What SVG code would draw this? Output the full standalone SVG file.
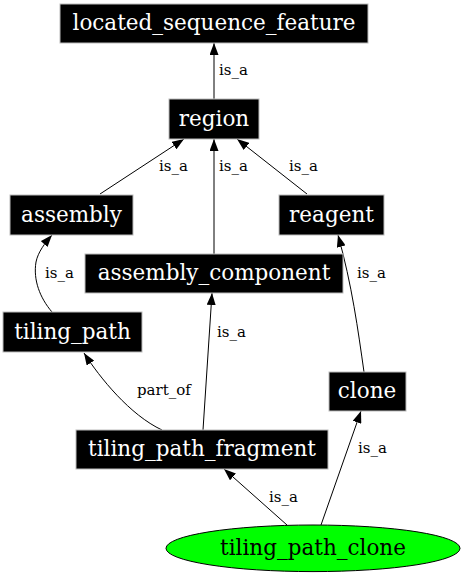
<svg xmlns="http://www.w3.org/2000/svg" width="464" height="576" viewBox="0 0 464 576">
<style>
.box{fill:#000;stroke:#bbb;stroke-width:1}
.nt{font-family:"DejaVu Serif",serif;font-size:21.5px;fill:#fff;text-anchor:middle}
.nt2{font-family:"DejaVu Serif",serif;font-size:21.5px;fill:#000;text-anchor:middle}
.e{fill:none;stroke:#000;stroke-width:1;marker-end:url(#arr)}
.lb{font-family:"DejaVu Serif",serif;font-size:15px;fill:#000}
</style>
<defs>
<marker id="arr" markerWidth="12" markerHeight="9" refX="12" refY="4.5" orient="auto" markerUnits="userSpaceOnUse">
<path d="M0,0 L12,4.5 L0,9 z" fill="#000"/>
</marker>
</defs>
<rect width="464" height="576" fill="#fff"/>
<g id="connectors">
<path class="e" d="M214,99 L214,43"/>
<path class="e" d="M100,194 L184,139"/>
<path class="e" d="M214,254 L214,139"/>
<path class="e" d="M307,194 L237,139"/>
<path class="e" d="M52,312 C40,298 33,280 36,262 C38,252 45,243 52,235"/>
<path class="e" d="M364,372 C358,330 352,285 338,235"/>
<path class="e" d="M203,430 L212,293"/>
<path class="e" d="M162,430 C130,415 100,378 84,353"/>
<path class="e" d="M287,525 L224,469"/>
<path class="e" d="M321,525 L361,411"/>
<text class="lb" x="219" y="75">is_a</text>
<text class="lb" x="159" y="171">is_a</text>
<text class="lb" x="219" y="171">is_a</text>
<text class="lb" x="289" y="171">is_a</text>
<text class="lb" x="45" y="278">is_a</text>
<text class="lb" x="357" y="278">is_a</text>
<text class="lb" x="217" y="337">is_a</text>
<text class="lb" x="137" y="395">part_of</text>
<text class="lb" x="269" y="502">is_a</text>
<text class="lb" x="358" y="453">is_a</text>
</g>
<g id="located_sequence_feature">
<rect class="box" x="60" y="4" width="308" height="39"/>
<text class="nt" x="214" y="30">located_sequence_feature</text>
</g>
<g id="region">
<rect class="box" x="169" y="99" width="90" height="40"/>
<text class="nt" x="214" y="126">region</text>
</g>
<g id="assembly">
<rect class="box" x="10" y="195" width="123" height="40"/>
<text class="nt" x="71.5" y="222">assembly</text>
</g>
<g id="reagent">
<rect class="box" x="279" y="195" width="105" height="40"/>
<text class="nt" x="331.5" y="222">reagent</text>
</g>
<g id="assembly_component">
<rect class="box" x="85" y="254" width="258" height="39"/>
<text class="nt" x="214" y="280">assembly_component</text>
</g>
<g id="tiling_path">
<rect class="box" x="3" y="312" width="139" height="40"/>
<text class="nt" x="72.5" y="339">tiling_path</text>
</g>
<g id="clone">
<rect class="box" x="329" y="372" width="77" height="39"/>
<text class="nt" x="367" y="398">clone</text>
</g>
<g id="tiling_path_fragment">
<rect class="box" x="76" y="430" width="252" height="39"/>
<text class="nt" x="202" y="456">tiling_path_fragment</text>
</g>
<g id="tiling_path_clone">
<ellipse cx="313" cy="548.3" rx="147" ry="23.3" fill="#00ff00" stroke="#000" stroke-width="1"/>
<text class="nt2" x="313" y="555">tiling_path_clone</text>
</g>
</svg>
